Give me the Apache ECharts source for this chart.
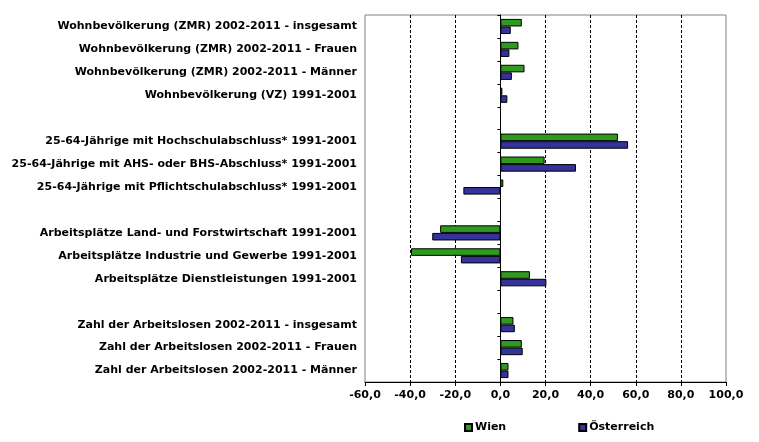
<!DOCTYPE html>
<html>
<head>
<meta charset="utf-8">
<script src="https://cdn.jsdelivr.net/npm/echarts@6/dist/echarts.min.js"></script>
<style>html,body{margin:0;padding:0;background:#fff;}#c{width:759px;height:442px;}</style>
</head>
<body>
<div id="c"></div>
<script>
const categories = [
  'Wohnbevölkerung (ZMR) 2002-2011 - insgesamt',
  'Wohnbevölkerung (ZMR) 2002-2011 - Frauen',
  'Wohnbevölkerung (ZMR) 2002-2011 - Männer',
  'Wohnbevölkerung (VZ) 1991-2001',
  ' ',
  '25-64-Jährige mit Hochschulabschluss* 1991-2001',
  '25-64-Jährige mit AHS- oder BHS-Abschluss* 1991-2001',
  '25-64-Jährige mit Pflichtschulabschluss* 1991-2001',
  '  ',
  'Arbeitsplätze Land- und Forstwirtschaft 1991-2001',
  'Arbeitsplätze Industrie und Gewerbe 1991-2001',
  'Arbeitsplätze Dienstleistungen 1991-2001',
  '   ',
  'Zahl der Arbeitslosen 2002-2011 - insgesamt',
  'Zahl der Arbeitslosen 2002-2011 - Frauen',
  'Zahl der Arbeitslosen 2002-2011 - Männer'
];
const wien = [9.5, 8.0, 10.7, 0.9, null, 52.1, 19.6, 1.3, null, -26.7, -39.6, 13.1, null, 5.8, 9.5, 3.6];
const oesterreich = [4.6, 4.0, 5.1, 3.1, null, 56.6, 33.5, -16.4, null, -30.2, -17.5, 20.4, null, 6.4, 9.9, 3.6];
const seriesNames = ['Wien', 'Österreich'];
const xMin = -60, xMax = 100, xStep = 20;

const gridLeft = 365, gridRight = 33, W = 759;
const plotW = W - gridLeft - gridRight;
const zeroOffset = -((0 - xMin) / (xMax - xMin)) * plotW;

const font = 'DejaVu Sans';
const chart = echarts.init(document.getElementById('c'), null, {renderer: 'canvas'});
chart.setOption({
  animation: false,
  backgroundColor: '#fff',
  grid: {left: gridLeft, right: gridRight, top: 15, bottom: 60, show: true, borderColor: '#808080', borderWidth: 1, containLabel: false},
  legend: {
    bottom: 4, left: 459, itemGap: 72, itemWidth: 7, itemHeight: 7, icon: 'rect',
    textStyle: {fontFamily: font, fontWeight: 'bold', fontSize: 11, color: '#000', padding: [0,0,0,-2]},
    data: seriesNames
  },
  xAxis: {
    type: 'value', min: xMin, max: xMax, interval: xStep,
    axisLine: {show: true, onZero: false, lineStyle: {color: '#000', width: 1}},
    axisTick: {show: true, length: 4, lineStyle: {color: '#000'}},
    axisLabel: {fontFamily: font, fontWeight: 'bold', fontSize: 11, color: '#000', margin: 8,
      formatter: v => v.toFixed(1).replace('.', ',')},
    splitLine: {show: true, showMinLine: false, showMaxLine: false, lineStyle: {color: '#000', type: [3, 2], width: 1}}
  },
  yAxis: [{
    type: 'category', data: categories, inverse: true, position: 'left',
    axisLine: {show: false, onZero: false}, axisTick: {show: false},
    axisLabel: {fontFamily: font, fontWeight: 'bold', fontSize: 11, color: '#000', margin: 8}
  }, {
    type: 'category', data: categories, inverse: true, position: 'left', offset: zeroOffset,
    axisLine: {show: true, onZero: false, lineStyle: {color: '#000', width: 1}},
    axisTick: {show: true, length: 3, lineStyle: {color: '#000'}},
    axisLabel: {show: false}
  }],
  series: [{
    name: seriesNames[0], type: 'bar', data: wien, barGap: '0%', barCategoryGap: '34%',
    itemStyle: {color: '#2f9a1f', borderColor: '#000', borderWidth: 1}
  }, {
    name: seriesNames[1], type: 'bar', data: oesterreich, barGap: '0%', barCategoryGap: '34%',
    itemStyle: {color: '#333399', borderColor: '#000', borderWidth: 1}
  }]
});
</script>
</body>
</html>
